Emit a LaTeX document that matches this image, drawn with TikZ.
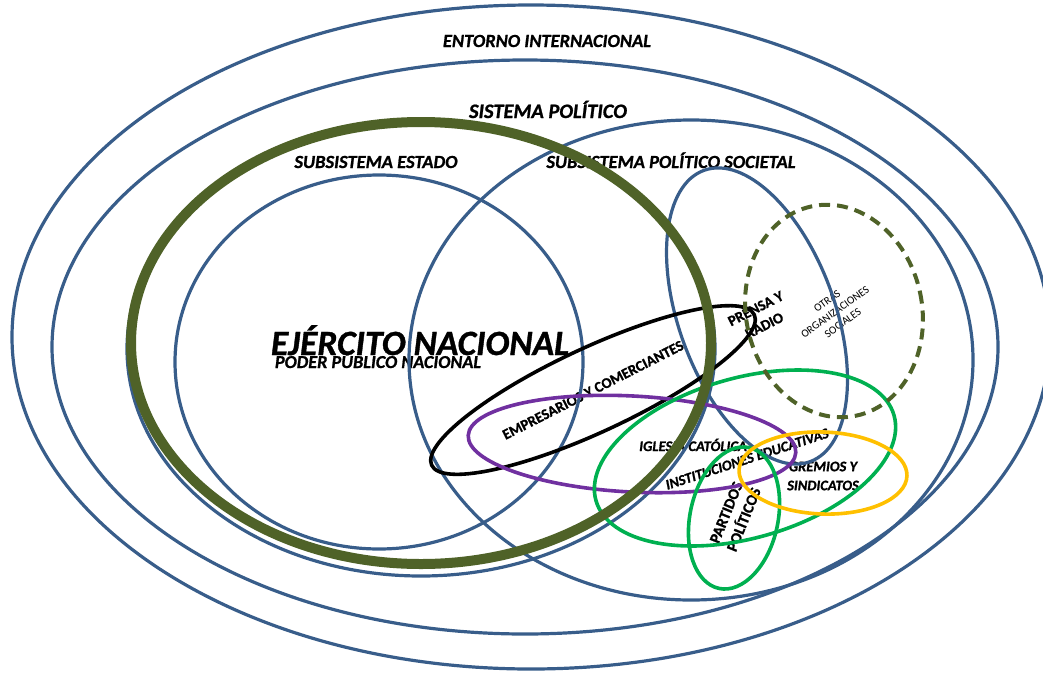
\documentclass[tikz,border=0pt]{standalone}
\usepackage{fontspec}
\setmainfont{Carlito}[BoldFeatures={FakeBold=1}, BoldItalicFeatures={FakeBold=1}]
\usepackage{tikz}
\usepackage{xcolor}
\definecolor{sysBlue}{RGB}{56,93,138}
\definecolor{armyGreen}{RGB}{79,98,40}
\definecolor{orgGreen}{RGB}{0,176,80}
\definecolor{churchPurple}{RGB}{112,48,160}
\definecolor{guildYellow}{RGB}{255,192,0}

\begin{document}
\begin{tikzpicture}[x=1pt, y=-1pt,
    ring/.style={draw=sysBlue, line width=3.2pt},
    actor/.style={line width=3.6pt},
    headline/.style={inner sep=0pt, anchor=base},
    actorname/.style={inner sep=0pt, align=center}]
    \newcommand\hfont[1]{\fontsize{#1}{#1}\selectfont\bfseries\itshape}
    \newcommand\rfont[2]{\fontsize{#1}{#2}\selectfont}
    \newcommand\ufont[2]{\fontsize{#1}{#2}\selectfont\bfseries}
    \newcommand\bfont[2]{\fontsize{#1}{#2}\selectfont\bfseries\itshape}

    \clip (0,0) rectangle (1043,672);

    % names of the systems
    \node[headline, font=\hfont{18.5}] (entorno) at (547,47) {ENTORNO INTERNACIONAL};
    \node[headline, font=\hfont{20.5}] (sistema) at (548,118) {SISTEMA POLÍTICO};
    \node[headline, font=\hfont{18.5}] (estado) at (376,168) {SUBSISTEMA ESTADO};
    \node[headline, font=\hfont{18.5}] (societal) at (671,168) {SUBSISTEMA POLÍTICO SOCIETAL};
    \node[headline, font=\hfont{18.2}] (poder) at (378,368) {PODER PÚBLICO NACIONAL};
    \node[headline, font=\hfont{35.5}] (ejercito) at (420,355) {EJÉRCITO NACIONAL};

    % names of the actors
    \node[actorname, font=\ufont{14.8}{19}, rotate=27] (empresarios) at (593,390) {EMPRESARIOS Y COMERCIANTES};
    \node[actorname, font=\ufont{14.8}{19}, rotate=27] (prensa) at (760,317) {PRENSA Y\\RADIO};
    \node[actorname, font=\rfont{11}{13.4}, rotate=36] (otras) at (835,312) {OTRAS\\ORGANIZACIONES\\SOCIALES};
    \node[headline, font=\hfont{14.6}] (iglesia) at (693,451) {IGLESIA CATÓLICA};
    \node[actorname, font=\bfont{14.5}{18}, rotate=18] (educativas) at (747,459) {INSTITUCIONES EDUCATIVAS};
    \node[actorname, font=\bfont{14.5}{19}] (gremios) at (823,476) {GREMIOS Y\\SINDICATOS};
    \node[actorname, font=\ufont{15.5}{19}, rotate=68] (partidos) at (735,516) {PARTIDOS\\POLÍTICOS};

    % systems
    \draw[ring] (531,337) ellipse [x radius=519, y radius=332];
    \draw[ring] (525,347) ellipse [x radius=473, y radius=287];
    \draw[ring] (691,360) ellipse [x radius=282, y radius=240];
    \draw[ring] (379,362) ellipse [x radius=204, y radius=187];
    \draw[ring] (421,349) ellipse [x radius=294, y radius=227];
    \draw[ring, rotate around={20:(757,316)}] (757,316) ellipse [x radius=78, y radius=155];

    % actors
    \draw[actor, black, rotate around={25:(593,390)}] (593,390) ellipse [x radius=178, y radius=42];
    \draw[actor, churchPurple, rotate around={-3:(632,444)}] (632,444) ellipse [x radius=164, y radius=48];
    \draw[actor, orgGreen, rotate around={16:(745,458)}] (745,458) ellipse [x radius=155, y radius=80];
    \draw[actor, orgGreen, rotate around={-12:(734,518)}] (734,518) ellipse [x radius=44, y radius=72];
    \draw[actor, guildYellow, rotate around={-2:(823,473)}] (823,473) ellipse [x radius=84, y radius=41];
    \draw[actor, armyGreen, line width=4pt, dash pattern={on 11pt off 7pt}, rotate around={12:(834,311)}] (834,311) ellipse [x radius=88, y radius=107];
    \draw[armyGreen, line width=10pt] (421,343) ellipse [x radius=290, y radius=221];
\end{tikzpicture}
\end{document}
